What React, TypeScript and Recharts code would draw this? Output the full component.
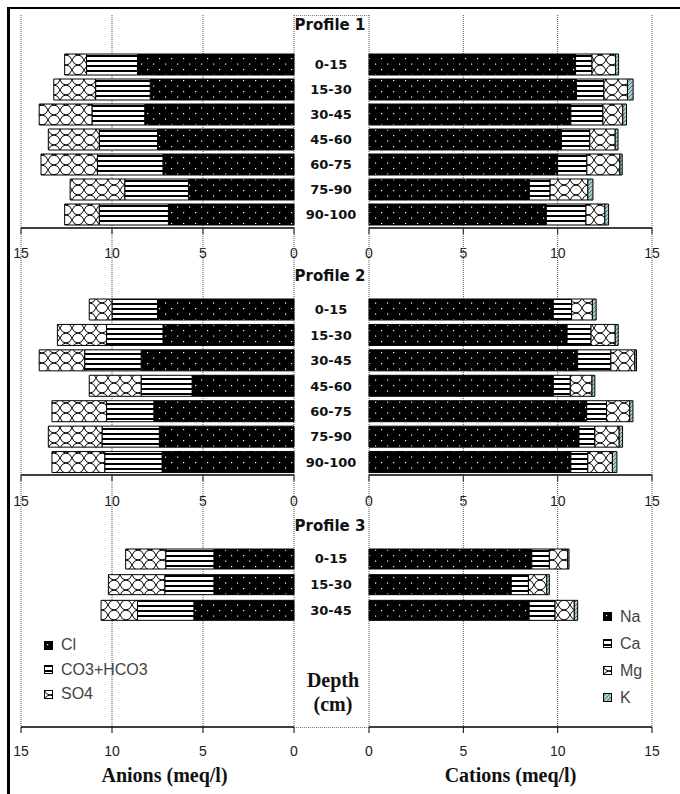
import React from 'react';
import { BarChart, Bar, XAxis, YAxis, CartesianGrid, Legend } from 'recharts';

// depth classes (cm)
const depthsLong = ['0-15', '15-30', '30-45', '45-60', '60-75', '75-90', '90-100'];
const depthsShort = ['0-15', '15-30', '30-45'];
const profileNames = ['Profile 1', 'Profile 2', 'Profile 3'];
const axisTicks = [0, 5, 10, 15];

// Profile 1 (meq/l)
const clP1 = [8.6, 7.9, 8.2, 7.5, 7.2, 5.8, 6.9];
const co3P1 = [2.8, 3.0, 2.9, 3.2, 3.6, 3.5, 3.8];
const so4P1 = [1.2, 2.3, 2.9, 2.8, 3.1, 3.0, 1.9];
const naP1 = [10.95, 11.0, 10.7, 10.2, 10.0, 8.5, 9.4];
const caP1 = [0.87, 1.45, 1.7, 1.5, 1.55, 1.1, 2.1];
const mgP1 = [1.25, 1.25, 1.05, 1.35, 1.75, 2.0, 1.0];
const kP1 = [0.16, 0.3, 0.2, 0.15, 0.12, 0.27, 0.2];

// Profile 2
const clP2 = [7.5, 7.2, 8.4, 5.6, 7.7, 7.4, 7.25];
const co3P2 = [2.5, 3.1, 3.1, 2.8, 2.6, 3.15, 3.15];
const so4P2 = [1.25, 2.7, 2.5, 2.85, 3.0, 2.95, 2.9];
const naP2 = [9.77, 10.5, 11.06, 9.77, 11.54, 11.13, 10.7];
const caP2 = [0.97, 1.27, 1.76, 0.9, 1.05, 0.84, 0.9];
const mgP2 = [1.1, 1.28, 1.27, 1.15, 1.23, 1.29, 1.3];
const kP2 = [0.2, 0.16, 0.09, 0.15, 0.17, 0.18, 0.24];

// Profile 3
const clP3 = [4.4, 4.4, 5.5];
const co3P3 = [2.65, 2.7, 3.1];
const so4P3 = [2.2, 3.1, 2.0];
const naP3 = [8.63, 7.54, 8.49];
const caP3 = [0.93, 0.91, 1.37];
const mgP3 = [0.97, 0.97, 1.02];
const kP3 = [0.07, 0.14, 0.18];

type Row = { [key: string]: string | number };

function makeRows(depths: string[], series: { [key: string]: number[] }): Row[] {
  return depths.map((d, i) => {
    const r: Row = { depth: d };
    Object.keys(series).forEach((k) => {
      r[k] = series[k][i];
    });
    return r;
  });
}

const anionRows = [
  makeRows(depthsLong, { cl: clP1, co3: co3P1, so4: so4P1 }),
  makeRows(depthsLong, { cl: clP2, co3: co3P2, so4: so4P2 }),
  makeRows(depthsShort, { cl: clP3, co3: co3P3, so4: so4P3 }),
];
const cationRows = [
  makeRows(depthsLong, { na: naP1, ca: caP1, mg: mgP1, k: kP1 }),
  makeRows(depthsLong, { na: naP2, ca: caP2, mg: mgP2, k: kP2 }),
  makeRows(depthsShort, { na: naP3, ca: caP3, mg: mgP3, k: kP3 }),
];

// vertical layout of the three stacked panels
const panels = [
  { top: 0, plotTop: 15, plotH: 213, padTop: 37, padBottom: 1, axisH: 40, tickMargin: 14, barSize: 21, header: 25 },
  { top: 228, plotTop: 0, plotH: 247, padTop: 69, padBottom: 0, axisH: 40, tickMargin: 15, barSize: 21, header: 276 },
  { top: 475, plotTop: 0, plotH: 252, padTop: 71, padBottom: 104, axisH: 60, tickMargin: 13, barSize: 20, header: 526 },
];

const sans = '"Liberation Sans", Arial, sans-serif';
const serif = '"Liberation Serif", "Times New Roman", serif';
const tickStyle = { fontSize: 14, fill: '#222', fontFamily: sans };
const barStroke = { stroke: '#000', strokeWidth: 1 };

function DepthTick(props: any) {
  const { x, y, payload } = props;
  return (
    <text x={x - 38} y={y} textAnchor="middle" dominantBaseline="central"
      style={{ fontFamily: '"DejaVu Sans", Verdana, sans-serif', fontWeight: 'bold', fontSize: 13, fill: '#111' }}>
      {payload.value}
    </text>
  );
}

function PatternLegend(props: any) {
  const { payload, rowH } = props;
  return (
    <div style={{ fontFamily: sans, fontSize: 16, color: '#444' }}>
      {(payload || []).map((e: any) => (
        <div key={e.value} style={{ height: rowH, display: 'flex', alignItems: 'center' }}>
          <svg width={9} height={9} style={{ marginRight: 8 }}>
            <rect x={0.5} y={0.5} width={8} height={8} fill={e.color} stroke="#000" />
          </svg>
          <span>{e.value}</span>
        </div>
      ))}
    </div>
  );
}

export default function App() {
  return (
    <div style={{ position: 'absolute', left: 0, top: 0, width: 680, height: 794, background: '#fff', overflow: 'hidden' }}>
      <svg width={0} height={0} style={{ position: 'absolute' }}>
        <defs>
          <pattern id="pDots" width="12" height="11" patternUnits="userSpaceOnUse">
            <rect width="12" height="11" fill="#000" />
            <rect x="3" y="3" width="1.2" height="1.2" fill="#fff" />
            <rect x="9" y="8.5" width="1.2" height="1.2" fill="#fff" />
          </pattern>
          <pattern id="pStripes" width="8" height="5" patternUnits="userSpaceOnUse">
            <rect width="8" height="5" fill="#fff" />
            <rect width="8" height="2" fill="#000" />
          </pattern>
          <pattern id="pWave" width="12" height="10" patternUnits="userSpaceOnUse">
            <rect width="12" height="10" fill="#fff" />
            <path d="M0 10 Q2 5 6 5 Q10 5 12 0" stroke="#000" fill="none" strokeWidth="1" />
            <path d="M0 0 Q2 5 6 5 Q10 5 12 10" stroke="#000" fill="none" strokeWidth="1" />
          </pattern>
          <pattern id="pHatch" width="4" height="4" patternUnits="userSpaceOnUse">
            <rect width="4" height="4" fill="#a9cccc" />
            <path d="M0 4 L4 0" stroke="#3d5c5c" strokeWidth="0.8" />
          </pattern>
        </defs>
      </svg>

      {/* outer frame */}
      <div style={{ position: 'absolute', left: 7, top: 7, width: 680, height: 800, borderTop: '2px solid #000', borderLeft: '3px solid #000' }} />
      <div style={{ position: 'absolute', left: 294, top: 15, width: 75, borderTop: '1px dotted #777' }} />
      <div style={{ position: 'absolute', left: 294, top: 727, width: 75, borderTop: '1px dotted #777' }} />

      {panels.map((p, i) => {
        const h = p.plotTop + p.plotH + p.axisH;
        const last = i === panels.length - 1;
        return (
          <React.Fragment key={profileNames[i]}>
            <div style={{ position: 'absolute', left: 0, top: p.top, width: 300, height: h }}>
              <BarChart width={300} height={h} layout="vertical" data={anionRows[i]}
                margin={{ top: p.plotTop, right: 6, bottom: 0, left: 21 }}>
                <CartesianGrid horizontal={false} stroke="#555" strokeDasharray="1 1" />
                <XAxis type="number" domain={[0, 15]} ticks={axisTicks} interval={0} reversed height={p.axisH}
                  axisLine={{ stroke: '#000', strokeWidth: 1.5 }} tickLine={{ stroke: '#000' }} tickSize={6}
                  tickMargin={p.tickMargin} tick={tickStyle}
                  label={last ? { value: 'Anions (meq/l)', position: 'insideBottom', offset: 5, dx: 7,
                    style: { fontFamily: serif, fontWeight: 'bold', fontSize: 20, fill: '#111' } } : undefined} />
                {i === 0 && (
                  <XAxis xAxisId="top" orientation="top" type="number" domain={[0, 15]} height={0}
                    tick={false} tickLine={false} axisLine={{ stroke: '#777', strokeDasharray: '1 1' }} />
                )}
                <YAxis type="category" dataKey="depth" hide padding={{ top: p.padTop, bottom: p.padBottom }} />
                <Bar dataKey="cl" name="Cl" stackId="a" fill="url(#pDots)" {...barStroke} barSize={p.barSize} isAnimationActive={false} />
                <Bar dataKey="co3" name="CO3+HCO3" stackId="a" fill="url(#pStripes)" {...barStroke} barSize={p.barSize} isAnimationActive={false} />
                <Bar dataKey="so4" name="SO4" stackId="a" fill="url(#pWave)" {...barStroke} barSize={p.barSize} isAnimationActive={false} />
                {last && (
                  <Legend layout="vertical" align="center" verticalAlign="middle" itemSorter={() => 0}
                    wrapperStyle={{ left: 44, top: 158, width: 150 }}
                    content={(props: any) => <PatternLegend {...props} rowH={24.5} />} />
                )}
              </BarChart>
            </div>

            <div style={{ position: 'absolute', left: 294, top: p.top, width: 386, height: h }}>
              <BarChart width={386} height={h} layout="vertical" data={cationRows[i]}
                margin={{ top: p.plotTop, right: 28, bottom: 0, left: 0 }}>
                <CartesianGrid horizontal={false} stroke="#555" strokeDasharray="1 1" />
                <XAxis type="number" domain={[0, 15]} ticks={axisTicks} interval={0} height={p.axisH}
                  axisLine={{ stroke: '#000', strokeWidth: 1.5 }} tickLine={{ stroke: '#000' }} tickSize={6}
                  tickMargin={p.tickMargin} tick={tickStyle}
                  label={last ? { value: 'Cations (meq/l)', position: 'insideBottom', offset: 5,
                    style: { fontFamily: serif, fontWeight: 'bold', fontSize: 20, fill: '#111' } } : undefined} />
                {i === 0 && (
                  <XAxis xAxisId="top" orientation="top" type="number" domain={[0, 15]} height={0}
                    tick={false} tickLine={false} axisLine={{ stroke: '#777', strokeDasharray: '1 1' }} />
                )}
                <YAxis type="category" dataKey="depth" width={75} axisLine={false} tickLine={false}
                  tickSize={0} tickMargin={0} interval={0} tick={<DepthTick />}
                  padding={{ top: p.padTop, bottom: p.padBottom }} />
                <Bar dataKey="na" name="Na" stackId="c" fill="url(#pDots)" {...barStroke} barSize={p.barSize} isAnimationActive={false} />
                <Bar dataKey="ca" name="Ca" stackId="c" fill="url(#pStripes)" {...barStroke} barSize={p.barSize} isAnimationActive={false} />
                <Bar dataKey="mg" name="Mg" stackId="c" fill="url(#pWave)" {...barStroke} barSize={p.barSize} isAnimationActive={false} />
                <Bar dataKey="k" name="K" stackId="c" fill="url(#pHatch)" {...barStroke} barSize={p.barSize} isAnimationActive={false} />
                {last && (
                  <Legend layout="vertical" align="center" verticalAlign="middle" itemSorter={() => 0}
                    wrapperStyle={{ left: 309, top: 128, width: 70 }}
                    content={(props: any) => <PatternLegend {...props} rowH={27} />} />
                )}
              </BarChart>
            </div>

            <div style={{ position: 'absolute', left: 280, width: 100, top: p.header - 10, textAlign: 'center',
              fontFamily: '"DejaVu Sans", Verdana, sans-serif', fontWeight: 'bold', fontSize: 15, lineHeight: '20px', color: '#111' }}>
              {profileNames[i]}
            </div>
          </React.Fragment>
        );
      })}

      <div style={{ position: 'absolute', left: 283, width: 100, top: 668, textAlign: 'center',
        fontFamily: serif, fontWeight: 'bold', fontSize: 20, lineHeight: '24px', color: '#111' }}>
        Depth<br />(cm)
      </div>
    </div>
  );
}
